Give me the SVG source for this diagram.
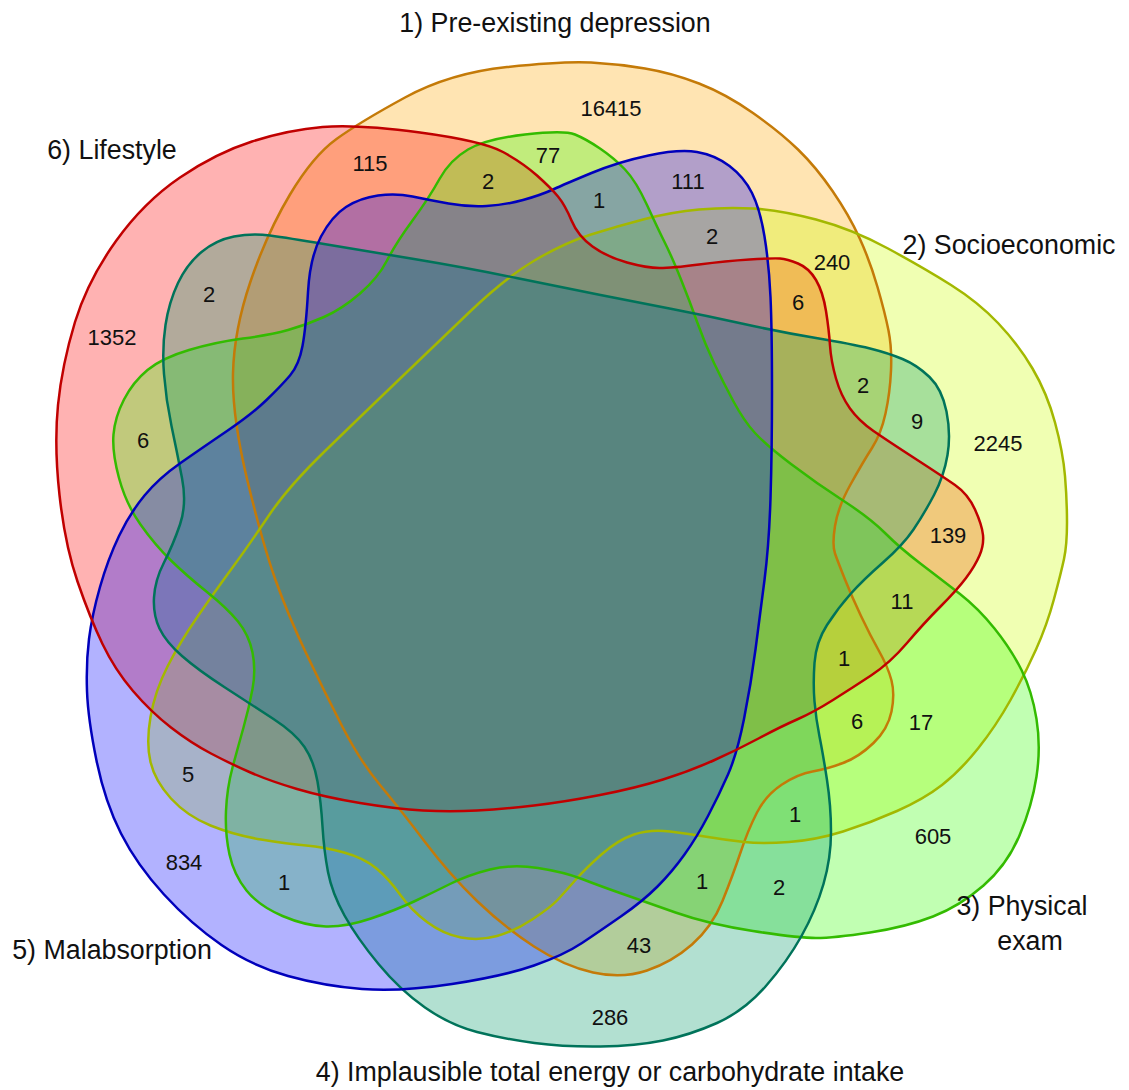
<svg xmlns="http://www.w3.org/2000/svg" xmlns:xlink="http://www.w3.org/1999/xlink" width="1129" height="1090" viewBox="0 0 1129 1090">
  <style>
    .fill { fill-opacity: 0.3; stroke: none; }
    .outline { fill: none; stroke-width: 2.5; stroke-linejoin: round; }
    text { font-family: "Liberation Sans", Arial, sans-serif; fill: #111; text-anchor: middle; }
    .count { font-size: 22px; }
    .title { font-size: 26.8px; }
  </style>
  <defs>
    <!-- set outlines -->
    <path id="shape1" d="M 507,67 Q 564,61 591,62.5 Q 618,64 645,68.5 Q 672,73 699,83.5 Q 726,94 753,113 Q 780,132 798,149.5 Q 816,167 832.5,191 Q 849,215 859.5,238 Q 870,261 877.5,287 Q 885,313 888.5,330.5 Q 892,348 891,370.5 Q 890,393 885.5,413.5 Q 881,434 872,448 Q 863,462 850.5,484.5 Q 838,507 835,526 Q 832,545 835,553.5 Q 838,562 845,579.5 Q 852,597 861,616 Q 870,635 879,651 Q 888,667 891.5,680.5 Q 895,694 891.5,711.5 Q 888,729 873.5,743 Q 859,757 843,763 Q 827,769 812.5,771.5 Q 798,774 782,784.5 Q 766,795 757,812.5 Q 748,830 740.5,852.5 Q 733,875 722.5,901 Q 712,927 692,944.5 Q 672,962 647,970.5 Q 622,979 593,972.5 Q 564,966 534,946.5 Q 504,927 477,901 Q 450,875 425,842 Q 400,809 380,785 Q 360,761 342,726 Q 324,691 306,653 Q 288,615 275.5,580 Q 263,545 247.5,481 Q 232,417 233,373.5 Q 234,330 250.5,281.5 Q 267,233 290,194.5 Q 313,156 336.5,139 Q 360,122 405,97.5 Q 450,73 507,67 Z"/>
    <path id="shape2" d="M 534.5,260.5 Q 564,243 591,234.5 Q 618,226 645,219 Q 672,212 699,209.5 Q 726,207 753,208.5 Q 780,210 816,219.5 Q 852,229 888,248.5 Q 924,268 951,285 Q 978,302 998,323 Q 1018,344 1032.5,368.5 Q 1047,393 1055,422.5 Q 1063,452 1065,476 Q 1067,500 1067,522.5 Q 1067,545 1064,559 Q 1061,573 1054,599 Q 1047,625 1036,649.5 Q 1025,674 1010.5,700 Q 996,726 978,748.5 Q 960,771 942,785 Q 924,799 897,811 Q 870,823 843,831.5 Q 816,840 789,842 Q 762,844 744,842 Q 726,840 708,837 Q 690,834 670,831.5 Q 650,829 634,834.5 Q 618,840 602,854 Q 586,868 575,880.5 Q 564,893 557.5,900 Q 551,907 533,919 Q 515,931 497,936 Q 479,941 461,937.5 Q 443,934 427,922 Q 411,910 400,894.5 Q 389,879 376.5,868.5 Q 364,858 344,852.5 Q 324,847 306,845.5 Q 288,844 261,839.5 Q 234,835 210.5,825.5 Q 187,816 171,798.5 Q 155,781 150.5,762 Q 146,743 150.5,717 Q 155,691 167.5,666.5 Q 180,642 198,616 Q 216,590 232.5,567.5 Q 249,545 268.5,516 Q 288,487 324,452 Q 360,417 396,382.5 Q 432,348 468.5,313 Q 505,278 534.5,260.5 Z"/>
    <path id="shape3" d="M 525,134.5 Q 564,130 575,134.5 Q 586,139 600,148.5 Q 614,158 625,169.5 Q 636,181 647,205 Q 658,229 665,243 Q 672,257 681,279.5 Q 690,302 697.5,323 Q 705,344 714,363 Q 723,382 733.5,401.5 Q 744,421 755,433 Q 766,445 791,464 Q 816,483 843,500.5 Q 870,518 885,533 Q 900,548 921,564 Q 942,580 960,594 Q 978,608 994.5,628.5 Q 1011,649 1021.5,670 Q 1032,691 1036.5,719 Q 1041,747 1036.5,776.5 Q 1032,806 1019.5,835.5 Q 1007,865 983.5,885.5 Q 960,906 933,916.5 Q 906,927 870,932.5 Q 834,938 816,938 Q 798,938 753,931 Q 708,924 675.5,912.5 Q 643,901 621.5,893.5 Q 600,886 582,879 Q 564,872 538,868 Q 512,864 490,869.5 Q 468,875 450,884 Q 432,893 414,901.5 Q 396,910 371,918.5 Q 346,927 326,926.5 Q 306,926 282.5,916 Q 259,906 246.5,890.5 Q 234,875 229.5,854.5 Q 225,834 226,811 Q 227,788 232.5,767.5 Q 238,747 243.5,727.5 Q 249,708 252.5,689 Q 256,670 252.5,652.5 Q 249,635 238,621.5 Q 227,608 207,592 Q 187,576 171,560.5 Q 155,545 140.5,524.5 Q 126,504 119,478 Q 112,452 113.5,434.5 Q 115,417 124,399.5 Q 133,382 147.5,370 Q 162,358 189,350 Q 216,342 243,338.5 Q 270,335 288,330 Q 306,325 324,317 Q 342,309 360,293.5 Q 378,278 387,260.5 Q 396,243 412.5,220.5 Q 429,198 439.5,179 Q 450,160 468,149.5 Q 486,139 525,134.5 Z"/>
    <path id="shape4" d="M 234,236.5 Q 252,233 270,235.5 Q 288,238 324,244 Q 360,250 414,259 Q 468,268 516.5,278 Q 565,288 600.5,295 Q 636,302 672,309 Q 708,316 744,324 Q 780,332 816,338 Q 852,344 870,348.5 Q 888,353 902.5,359 Q 917,365 929.5,377 Q 942,389 946.5,411.5 Q 951,434 947.5,455 Q 944,476 934,495 Q 924,514 913.5,529.5 Q 903,545 883,562.5 Q 863,580 850.5,594 Q 838,608 827,625 Q 816,642 814.5,663 Q 813,684 814.5,701.5 Q 816,719 819.5,736.5 Q 823,754 827,780 Q 831,806 831,832 Q 831,858 823.5,884 Q 816,910 801.5,936 Q 787,962 765.5,986.5 Q 744,1011 717,1023 Q 690,1035 663,1040.5 Q 636,1046 600.5,1046.5 Q 565,1047 534.5,1043 Q 504,1039 477,1032 Q 450,1025 425,1007.5 Q 400,990 378.5,964 Q 357,938 344.5,915.5 Q 332,893 328,872 Q 324,851 322.5,826.5 Q 321,802 317.5,781.5 Q 314,761 304.5,747 Q 295,733 273.5,719 Q 252,705 225,687.5 Q 198,670 182,656 Q 166,642 159.5,628.5 Q 153,615 154,597.5 Q 155,580 164,562.5 Q 173,545 180,524.5 Q 187,504 182,478 Q 177,452 171.5,426 Q 166,400 164,374 Q 162,348 165.5,325 Q 169,302 178,283 Q 187,264 201.5,252 Q 216,240 234,236.5 Z"/>
    <path id="shape5" d="M 553,189.5 Q 565,184 591.5,173 Q 618,162 648.5,155.5 Q 679,149 697,152 Q 715,155 729.5,166 Q 744,177 752,193 Q 760,209 764.5,236.5 Q 769,264 770.5,297 Q 772,330 772,391 Q 772,452 770.5,498.5 Q 769,545 764.5,580 Q 760,615 755.5,649.5 Q 751,684 744,719 Q 737,754 728,774.5 Q 719,795 708,816 Q 697,837 684.5,854.5 Q 672,872 657.5,886.5 Q 643,901 621.5,916 Q 600,931 582,943 Q 564,955 534,965.5 Q 504,976 452,984 Q 400,992 362,989 Q 324,986 288,976 Q 252,966 221.5,945 Q 191,924 164,894.5 Q 137,865 121,833.5 Q 105,802 96.5,760.5 Q 88,719 87,691 Q 86,663 89,639 Q 92,615 100,587 Q 108,559 119,536 Q 130,513 144.5,495.5 Q 159,478 180.5,463 Q 202,448 227,431 Q 252,414 266.5,400 Q 281,386 290,375.5 Q 299,365 302.5,346 Q 306,327 308,292 Q 310,257 321,236.5 Q 332,216 346,207 Q 360,198 378,195.5 Q 396,193 412.5,196.5 Q 429,200 448.5,203.5 Q 468,207 486.5,206 Q 505,205 523,200 Q 541,195 553,189.5 Z"/>
    <path id="shape6" d="M 322.5,127 Q 357,124 420,132.5 Q 483,141 503,152 Q 523,163 537,175.5 Q 551,188 558,196.5 Q 565,205 571.5,220.5 Q 578,236 592.5,246.5 Q 607,257 627,262.5 Q 647,268 659.5,268 Q 672,268 699,264.5 Q 726,261 749.5,259.5 Q 773,258 780,258.5 Q 787,259 798,263.5 Q 809,268 816,280 Q 823,292 826,311 Q 829,330 830,345.5 Q 831,361 836,378.5 Q 841,396 850,408.5 Q 859,421 873.5,431 Q 888,441 915,458.5 Q 942,476 955,485 Q 968,494 975,509.5 Q 982,525 983,535 Q 984,545 979.5,555.5 Q 975,566 966,578 Q 957,590 940.5,606.5 Q 924,623 907,643 Q 890,663 871,675.5 Q 852,688 833,700 Q 814,712 797,719.5 Q 780,727 758.5,738.5 Q 737,750 713.5,760.5 Q 690,771 663,779.5 Q 636,788 600,795 Q 564,802 534,805.5 Q 504,809 477,810.5 Q 450,812 423,810.5 Q 396,809 360,803 Q 324,797 297,789 Q 270,781 250.5,772.5 Q 231,764 211,753.5 Q 191,743 171,727.5 Q 151,712 133,691 Q 115,670 102.5,644 Q 90,618 77.5,581.5 Q 65,545 59.5,495 Q 54,445 58,405 Q 62,365 75,322 Q 88,280 116,241 Q 144,202 180,177.5 Q 216,153 252,141.5 Q 288,130 322.5,127 Z"/>
  </defs>

  <rect width="1129" height="1090" fill="#ffffff"/>

  <!-- translucent fills, layered -->
  <g id="fills">
    <use xlink:href="#shape1" href="#shape1" class="fill" fill="#ffa500"/>
    <use xlink:href="#shape6" href="#shape6" class="fill" fill="#ff0000"/>
    <use xlink:href="#shape2" href="#shape2" class="fill" fill="#ccff00"/>
    <use xlink:href="#shape3" href="#shape3" class="fill" fill="#33ff00"/>
    <use xlink:href="#shape4" href="#shape4" class="fill" fill="#009966"/>
    <use xlink:href="#shape5" href="#shape5" class="fill" fill="#0000ff"/>
  </g>

  <!-- set outlines and names -->
  <g id="set1">
    <use xlink:href="#shape1" href="#shape1" class="outline" stroke="#c47a08"/>
    <text class="title" x="555" y="32">1) Pre-existing depression</text>
  </g>
  <g id="set2">
    <use xlink:href="#shape2" href="#shape2" class="outline" stroke="#a3b800"/>
    <text class="title" x="1009" y="254">2) Socioeconomic</text>
  </g>
  <g id="set3">
    <use xlink:href="#shape3" href="#shape3" class="outline" stroke="#33bb00"/>
    <text class="title" x="1022" y="915">3) Physical</text>
    <text class="title" x="1030" y="950">exam</text>
  </g>
  <g id="set4">
    <use xlink:href="#shape4" href="#shape4" class="outline" stroke="#00735a"/>
    <text class="title" x="610" y="1081">4) Implausible total energy or carbohydrate intake</text>
  </g>
  <g id="set5">
    <use xlink:href="#shape5" href="#shape5" class="outline" stroke="#0000bb"/>
    <text class="title" x="112" y="959">5) Malabsorption</text>
  </g>
  <g id="set6">
    <use xlink:href="#shape6" href="#shape6" class="outline" stroke="#c00000"/>
    <text class="title" x="112" y="159">6) Lifestyle</text>
  </g>

  <!-- region counts -->
  <g id="counts" class="count">
    <text class="count" x="611" y="116">16415</text>
    <text class="count" x="370" y="171">115</text>
    <text class="count" x="488" y="189">2</text>
    <text class="count" x="548" y="163">77</text>
    <text class="count" x="599" y="208">1</text>
    <text class="count" x="688" y="189">111</text>
    <text class="count" x="712" y="244">2</text>
    <text class="count" x="832" y="270">240</text>
    <text class="count" x="798" y="310">6</text>
    <text class="count" x="863" y="393">2</text>
    <text class="count" x="917" y="429">9</text>
    <text class="count" x="998" y="451">2245</text>
    <text class="count" x="948" y="543">139</text>
    <text class="count" x="112" y="345">1352</text>
    <text class="count" x="209" y="302">2</text>
    <text class="count" x="143" y="448">6</text>
    <text class="count" x="902" y="609">11</text>
    <text class="count" x="844" y="666">1</text>
    <text class="count" x="857" y="729">6</text>
    <text class="count" x="921" y="730">17</text>
    <text class="count" x="795" y="822">1</text>
    <text class="count" x="933" y="844">605</text>
    <text class="count" x="702" y="889">1</text>
    <text class="count" x="779" y="895">2</text>
    <text class="count" x="639" y="953">43</text>
    <text class="count" x="610" y="1025">286</text>
    <text class="count" x="188" y="782">5</text>
    <text class="count" x="184" y="870">834</text>
    <text class="count" x="284" y="890">1</text>
  </g>
</svg>
